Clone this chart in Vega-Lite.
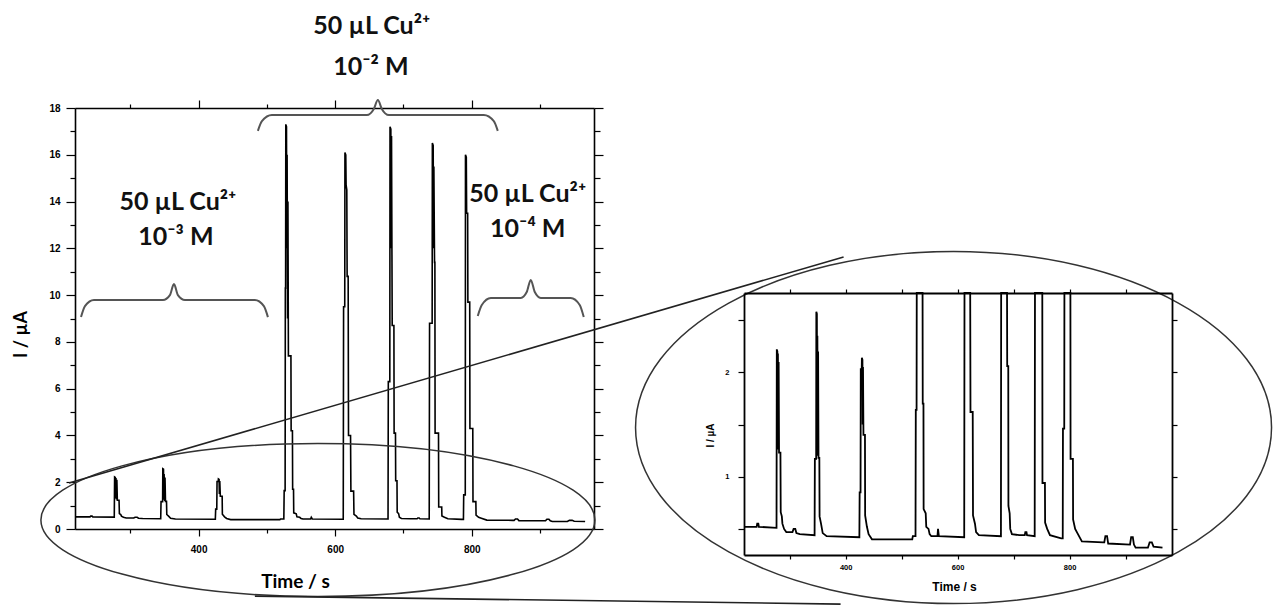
{
  "$schema": "https://vega.github.io/schema/vega-lite/v6.json",
  "padding": {"left": 12, "top": 14, "right": 0, "bottom": 0},
  "config": {"view": {"stroke": null}, "font": "Liberation Sans"},
  "datasets": {
    "trace": [
      {"t": 219, "I": 0.52}, {"t": 241, "I": 0.52}, {"t": 242, "I": 0.55}, {"t": 244, "I": 0.55}, {"t": 245, "I": 0.52}, {"t": 276.5, "I": 0.51},
      {"t": 277, "I": 2.22}, {"t": 278, "I": 2.2}, {"t": 278.5, "I": 1.3}, {"t": 279, "I": 2.18}, {"t": 279.8, "I": 1.26}, {"t": 280.3, "I": 2.1}, {"t": 281, "I": 1.23}, {"t": 283.5, "I": 1.23}, {"t": 284, "I": 0.66}, {"t": 286, "I": 0.62}, {"t": 287, "I": 0.55}, {"t": 290, "I": 0.5}, {"t": 294, "I": 0.47}, {"t": 305, "I": 0.47}, {"t": 307, "I": 0.5}, {"t": 310, "I": 0.5}, {"t": 312, "I": 0.46}, {"t": 318, "I": 0.45}, {"t": 344.5, "I": 0.44},
      {"t": 345, "I": 1.17}, {"t": 347.3, "I": 1.17}, {"t": 347.6, "I": 2.58}, {"t": 348.6, "I": 2.56}, {"t": 349, "I": 1.25}, {"t": 349.5, "I": 2.35}, {"t": 350.3, "I": 1.2}, {"t": 350.8, "I": 2.2}, {"t": 351.5, "I": 1.18}, {"t": 353, "I": 1.18}, {"t": 353.4, "I": 0.62}, {"t": 356, "I": 0.55}, {"t": 359, "I": 0.46}, {"t": 366, "I": 0.43}, {"t": 424.5, "I": 0.42},
      {"t": 425, "I": 0.85}, {"t": 426.6, "I": 0.85}, {"t": 427, "I": 2.03}, {"t": 428.7, "I": 2.03}, {"t": 429, "I": 2.14}, {"t": 430, "I": 2.12}, {"t": 430.4, "I": 1.5}, {"t": 431, "I": 2.05}, {"t": 431.8, "I": 1.4}, {"t": 434.5, "I": 1.4}, {"t": 434.8, "I": 0.63}, {"t": 438, "I": 0.52}, {"t": 441, "I": 0.45}, {"t": 447, "I": 0.4}, {"t": 519, "I": 0.4}, {"t": 520, "I": 0.43}, {"t": 524.8, "I": 0.43},
      {"t": 525.3, "I": 1.64}, {"t": 526.7, "I": 1.64}, {"t": 527, "I": 10.3}, {"t": 527.4, "I": 10.3}, {"t": 527.7, "I": 17.3}, {"t": 528.7, "I": 17.2}, {"t": 529.1, "I": 12}, {"t": 529.6, "I": 16.0}, {"t": 530.3, "I": 9}, {"t": 530.8, "I": 14}, {"t": 531.5, "I": 7.4}, {"t": 535.2, "I": 7.4}, {"t": 535.5, "I": 4.2}, {"t": 537.4, "I": 4.2}, {"t": 537.7, "I": 1.7}, {"t": 539, "I": 1.7}, {"t": 539.3, "I": 0.69}, {"t": 543, "I": 0.65}, {"t": 544, "I": 0.52}, {"t": 548, "I": 0.5}, {"t": 550, "I": 0.45}, {"t": 553, "I": 0.43}, {"t": 564, "I": 0.43}, {"t": 565, "I": 0.5}, {"t": 566.5, "I": 0.43}, {"t": 611.8, "I": 0.42},
      {"t": 612.3, "I": 9.5}, {"t": 614, "I": 9.5}, {"t": 614.3, "I": 16.1}, {"t": 615.5, "I": 16.0}, {"t": 616, "I": 14.7}, {"t": 617, "I": 14.5}, {"t": 617.5, "I": 10.8}, {"t": 619, "I": 10.8}, {"t": 619.5, "I": 4.0}, {"t": 622.5, "I": 4.0}, {"t": 623, "I": 1.62}, {"t": 627, "I": 1.62}, {"t": 627.5, "I": 0.63}, {"t": 631, "I": 0.55}, {"t": 633, "I": 0.47}, {"t": 638, "I": 0.44}, {"t": 677.4, "I": 0.43},
      {"t": 677.8, "I": 6.3}, {"t": 680, "I": 6.3}, {"t": 680.3, "I": 17.2}, {"t": 681.5, "I": 17.1}, {"t": 682, "I": 12}, {"t": 682.5, "I": 16.8}, {"t": 683.5, "I": 8.7}, {"t": 686, "I": 8.7}, {"t": 686.3, "I": 4.1}, {"t": 688.3, "I": 4.1}, {"t": 688.6, "I": 2.06}, {"t": 690.5, "I": 2.06}, {"t": 690.8, "I": 0.72}, {"t": 693, "I": 0.65}, {"t": 694, "I": 0.5}, {"t": 697, "I": 0.45}, {"t": 710, "I": 0.44}, {"t": 720, "I": 0.44}, {"t": 721, "I": 0.47}, {"t": 723, "I": 0.47}, {"t": 724, "I": 0.44}, {"t": 737.7, "I": 0.43},
      {"t": 738.2, "I": 8.8}, {"t": 742, "I": 8.8}, {"t": 742.3, "I": 16.5}, {"t": 743.5, "I": 16.4}, {"t": 744, "I": 12}, {"t": 744.5, "I": 15.5}, {"t": 745.5, "I": 11.4}, {"t": 746, "I": 11.4}, {"t": 746.3, "I": 4.1}, {"t": 751.3, "I": 4.1}, {"t": 751.6, "I": 0.94}, {"t": 756, "I": 0.94}, {"t": 756.3, "I": 0.56}, {"t": 760, "I": 0.5}, {"t": 765, "I": 0.44}, {"t": 785, "I": 0.41}, {"t": 787.8, "I": 0.41},
      {"t": 788.2, "I": 1.46}, {"t": 790.5, "I": 1.46}, {"t": 790.8, "I": 16.0}, {"t": 792, "I": 15.9}, {"t": 792.5, "I": 13.5}, {"t": 794, "I": 13.5}, {"t": 794.3, "I": 9.7}, {"t": 797, "I": 9.7}, {"t": 797.3, "I": 4.3}, {"t": 801.5, "I": 4.3}, {"t": 801.8, "I": 1.17}, {"t": 806, "I": 1.17}, {"t": 806.3, "I": 0.59}, {"t": 810, "I": 0.5}, {"t": 814, "I": 0.46}, {"t": 822, "I": 0.38}, {"t": 860, "I": 0.37}, {"t": 862, "I": 0.37}, {"t": 864, "I": 0.43}, {"t": 867, "I": 0.43}, {"t": 869, "I": 0.36}, {"t": 908, "I": 0.35}, {"t": 910, "I": 0.42}, {"t": 913, "I": 0.42}, {"t": 915, "I": 0.35}, {"t": 918, "I": 0.32}, {"t": 940, "I": 0.32}, {"t": 943, "I": 0.37}, {"t": 947, "I": 0.37}, {"t": 950, "I": 0.33}, {"t": 966, "I": 0.32}
    ],
    "braces": [
      {"brace": "top", "t": 486.8, "I": 17.02}, {"brace": "top", "t": 492.7, "I": 17.44}, {"brace": "top", "t": 507.3, "I": 17.7}, {"brace": "top", "t": 646.4, "I": 17.7}, {"brace": "top", "t": 656.6, "I": 17.96}, {"brace": "top", "t": 662.5, "I": 18.34}, {"brace": "top", "t": 668.3, "I": 17.96}, {"brace": "top", "t": 678.6, "I": 17.7}, {"brace": "top", "t": 817.6, "I": 17.7}, {"brace": "top", "t": 832.3, "I": 17.44}, {"brace": "top", "t": 838.1, "I": 17.02},
      {"brace": "left", "t": 227.8, "I": 9.06}, {"brace": "left", "t": 233.6, "I": 9.53}, {"brace": "left", "t": 246.8, "I": 9.79}, {"brace": "left", "t": 347.8, "I": 9.79}, {"brace": "left", "t": 358.0, "I": 10.0}, {"brace": "left", "t": 363.9, "I": 10.47}, {"brace": "left", "t": 369.7, "I": 10.0}, {"brace": "left", "t": 380.0, "I": 9.79}, {"brace": "left", "t": 482.4, "I": 9.79}, {"brace": "left", "t": 495.6, "I": 9.53}, {"brace": "left", "t": 501.5, "I": 9.06},
      {"brace": "right", "t": 808.8, "I": 9.11}, {"brace": "right", "t": 814.7, "I": 9.58}, {"brace": "right", "t": 827.9, "I": 9.88}, {"brace": "right", "t": 871.8, "I": 9.88}, {"brace": "right", "t": 880.5, "I": 10.13}, {"brace": "right", "t": 886.4, "I": 10.65}, {"brace": "right", "t": 892.3, "I": 10.13}, {"brace": "right", "t": 901.0, "I": 9.88}, {"brace": "right", "t": 944.9, "I": 9.88}, {"brace": "right", "t": 958.1, "I": 9.58}, {"brace": "right", "t": 964.0, "I": 9.06}
    ],
    "notes": [
      {"line": "50 µL Cu²⁺", "t": 369.7, "I": 13.98},
      {"line": "10⁻³ M", "t": 366.8, "I": 12.48},
      {"line": "50 µL Cu²⁺", "t": 653.7, "I": 21.5},
      {"line": "10⁻² M", "t": 652.2, "I": 19.75},
      {"line": "50 µL Cu²⁺", "t": 882.0, "I": 14.32},
      {"line": "10⁻⁴ M", "t": 882.0, "I": 12.83}
    ],
    "links": [
      {"link": "upper", "t": 210.2, "I": 1.97}, {"link": "upper", "t": 1344.5, "I": 11.63},
      {"link": "lower", "t": 482.4, "I": -2.87}, {"link": "lower", "t": 1340.1, "I": -3.21}
    ]
  },
  "hconcat": [
    {
      "width": 519,
      "height": 421,
      "layer": [
        {
          "data": {"name": "trace"},
          "mark": {"type": "line", "color": "black", "strokeWidth": 1.6},
          "encoding": {
            "x": {"field": "t", "type": "quantitative", "scale": {"domain": [219, 979], "nice": false, "zero": false},
              "axis": {"orient": "bottom", "values": [300, 400, 500, 600, 700, 800, 900], "format": "d",
                "labelExpr": "datum.value % 200 === 0 ? datum.label : ''",
                "tickSize": {"condition": {"test": "datum.value % 200 === 0", "value": 7}, "value": 4},
                "labelFontSize": 10, "labelFontWeight": "bold", "labelColor": "black", "labelPadding": 8,
                "domainColor": "black", "domainWidth": 1.6, "tickColor": "black", "tickWidth": 1.2, "grid": false,
                "title": "Time / s", "titleFont": "Lato", "titleFontSize": 19, "titleFontWeight": "bold", "titleColor": "black",
                "titleX": 220, "titleY": 52, "titleBaseline": "middle", "titleAlign": "center"}},
            "y": {"field": "I", "type": "quantitative", "scale": {"domain": [0, 18], "nice": false, "zero": false},
              "axis": {"orient": "left", "values": [0, 1, 2, 3, 4, 5, 6, 7, 8, 9, 10, 11, 12, 13, 14, 15, 16, 17, 18],
                "labelExpr": "datum.value % 2 === 0 ? datum.label : ''",
                "tickSize": {"condition": {"test": "datum.value % 2 === 0", "value": 9}, "value": 5},
                "labelFontSize": 10, "labelFontWeight": "bold", "labelColor": "black", "labelPadding": 6,
                "domainColor": "black", "domainWidth": 1.6, "tickColor": "black", "tickWidth": 1.2, "grid": false,
                "title": "I / µA", "titleFont": "Lato", "titleFontSize": 18, "titleFontWeight": "bold", "titleColor": "black",
                "titleX": -54, "titleY": 226, "titleBaseline": "middle", "titleAlign": "center", "titleAngle": -90}}
          }
        },
        {
          "data": {"name": "trace"},
          "mark": {"type": "point", "opacity": 0},
          "encoding": {
            "x": {"field": "t", "type": "quantitative",
              "axis": {"orient": "top", "values": [300, 400, 500, 600, 700, 800, 900], "labels": false, "title": null,
                "tickSize": {"condition": {"test": "datum.value % 200 === 0", "value": 8}, "value": 4},
                "domainColor": "black", "domainWidth": 1.6, "tickColor": "black", "tickWidth": 1.2, "grid": false}},
            "y": {"field": "I", "type": "quantitative",
              "axis": {"orient": "right", "values": [0, 1, 2, 3, 4, 5, 6, 7, 8, 9, 10, 11, 12, 13, 14, 15, 16, 17, 18], "labels": false, "title": null,
                "tickSize": {"condition": {"test": "datum.value % 2 === 0", "value": 9}, "value": 6},
                "domainColor": "black", "domainWidth": 1.6, "tickColor": "black", "tickWidth": 1.2, "grid": false}}
          }
        },
        {
          "data": {"values": [{"t": 574.7, "I": 0.385}]},
          "mark": {"type": "point", "filled": false, "stroke": "#333", "strokeWidth": 1.5, "opacity": 1, "size": 306916,
            "shape": "M-1,0C-1,-0.1525,-0.552,-0.2762,0,-0.2762C0.552,-0.2762,1,-0.1525,1,0C1,0.1525,0.552,0.2762,0,0.2762C-0.552,0.2762,-1,0.1525,-1,0Z"},
          "encoding": {
            "x": {"field": "t", "type": "quantitative", "axis": null},
            "y": {"field": "I", "type": "quantitative", "axis": null}
          }
        },
        {
          "data": {"values": [{"t": 1505.5, "I": 4.34}]},
          "mark": {"type": "point", "filled": false, "stroke": "#333", "strokeWidth": 1.5, "opacity": 1, "size": 404496,
            "shape": "M-1,0C-1,-0.3055,-0.552,-0.5535,0,-0.5535C0.552,-0.5535,1,-0.3055,1,0C1,0.3055,0.552,0.5535,0,0.5535C-0.552,0.5535,-1,0.3055,-1,0Z"},
          "encoding": {
            "x": {"field": "t", "type": "quantitative", "axis": null},
            "y": {"field": "I", "type": "quantitative", "axis": null}
          }
        },
        {
          "data": {"name": "links"},
          "mark": {"type": "line", "color": "#222", "strokeWidth": 1.6},
          "encoding": {
            "x": {"field": "t", "type": "quantitative", "axis": null},
            "y": {"field": "I", "type": "quantitative", "axis": null},
            "detail": {"field": "link", "type": "nominal"}
          }
        },
        {
          "data": {"name": "braces"},
          "mark": {"type": "line", "color": "#555", "strokeWidth": 2, "interpolate": "monotone"},
          "encoding": {
            "x": {"field": "t", "type": "quantitative", "axis": null},
            "y": {"field": "I", "type": "quantitative", "axis": null},
            "detail": {"field": "brace", "type": "nominal"}
          }
        },
        {
          "data": {"name": "notes"},
          "mark": {"type": "text", "font": "Lato", "fontSize": 25, "fontWeight": "bold", "color": "#111", "align": "center", "baseline": "middle"},
          "encoding": {
            "x": {"field": "t", "type": "quantitative", "axis": null},
            "y": {"field": "I", "type": "quantitative", "axis": null},
            "text": {"field": "line", "type": "nominal"}
          }
        }
      ],
      "resolve": {"axis": {"x": "independent", "y": "independent"}}
    },
    {
      "vconcat": [
        {
          "width": 428,
          "height": 185,
          "data": {"values": [{"t": 0}]},
          "mark": {"type": "point", "opacity": 0}
        },
        {
          "width": 428,
          "height": 262,
          "data": {"name": "trace"},
          "layer": [
            {
              "mark": {"type": "line", "color": "black", "strokeWidth": 1.8},
              "encoding": {
                "x": {"field": "t", "type": "quantitative", "scale": {"domain": [218.4, 983], "nice": false, "zero": false, "clamp": true},
                  "axis": {"orient": "bottom", "values": [300, 400, 500, 600, 700, 800, 900], "format": "d",
                    "labelExpr": "datum.value % 200 === 0 ? datum.label : ''", "tickSize": 4,
                    "labelFontSize": 7.5, "labelFontWeight": "bold", "labelColor": "black", "labelPadding": 4,
                    "domainColor": "black", "domainWidth": 1.8, "tickColor": "black", "tickWidth": 1.2, "grid": false,
                    "title": "Time / s", "titleFontSize": 12, "titleFontWeight": "bold", "titleColor": "black",
                    "titleX": 210, "titleY": 31, "titleBaseline": "middle", "titleAlign": "center"}},
                "y": {"field": "I", "type": "quantitative", "scale": {"domain": [0.25, 2.76], "nice": false, "zero": false, "clamp": true},
                  "axis": {"orient": "left", "values": [0.5, 1, 1.5, 2, 2.5],
                    "labelExpr": "datum.value === 1 ? '1' : (datum.value === 2 ? '2' : '')", "tickSize": 6,
                    "labelFontSize": 7.5, "labelFontWeight": "bold", "labelColor": "black", "labelPadding": 9,
                    "domainColor": "black", "domainWidth": 1.8, "tickColor": "black", "tickWidth": 1.2, "grid": false,
                    "title": "I / µA", "titleFontSize": 10, "titleFontWeight": "bold", "titleColor": "black",
                    "titleX": -34, "titleY": 142, "titleBaseline": "middle", "titleAlign": "center", "titleAngle": -90}}
              }
            },
            {
              "mark": {"type": "point", "opacity": 0},
              "encoding": {
                "x": {"field": "t", "type": "quantitative",
                  "axis": {"orient": "top", "values": [300, 400, 500, 600, 700, 800, 900], "labels": false, "title": null, "tickSize": 4,
                    "domainColor": "black", "domainWidth": 1.8, "tickColor": "black", "tickWidth": 1.2, "grid": false}},
                "y": {"field": "I", "type": "quantitative",
                  "axis": {"orient": "right", "values": [0.5, 1, 1.5, 2, 2.5], "labels": false, "title": null, "tickSize": 5,
                    "domainColor": "black", "domainWidth": 1.8, "tickColor": "black", "tickWidth": 1.2, "grid": false}}
              }
            }
          ],
          "resolve": {"axis": {"x": "independent", "y": "independent"}}
        }
      ],
      "spacing": 0,
      "bounds": "flush"
    }
  ],
  "spacing": 150,
  "bounds": "flush"
}
